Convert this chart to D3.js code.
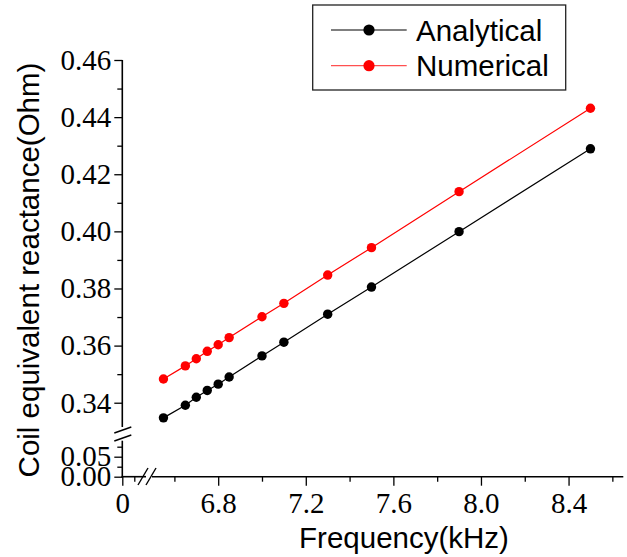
<!DOCTYPE html>
<html><head><meta charset="utf-8">
<script src="https://cdn.jsdelivr.net/npm/d3@7"></script>
<style>body{margin:0;background:#fff}svg{display:block}</style>
</head><body>
<svg id="c" width="627" height="557"></svg>
<script>
const freq = [6.55, 6.65, 6.7, 6.75, 6.8, 6.85, 7.0, 7.1, 7.3, 7.5, 7.9, 8.5];
const analytical = [0.3347, 0.3391, 0.3419, 0.3443, 0.3465, 0.3490, 0.3564, 0.3612, 0.3710, 0.3805, 0.3999, 0.4289];
const numerical = [0.3483, 0.3529, 0.3554, 0.3580, 0.3603, 0.3628, 0.3701, 0.3748, 0.3847, 0.3943, 0.4139, 0.4431];
const seriesNames = ["Analytical", "Numerical"];
const seriesColors = ["#000000", "#ff0000"];
const xMajorHigh = [6.8, 7.2, 7.6, 8.0, 8.4];
const xMinorHigh = [6.6, 7.0, 7.4, 7.8, 8.2, 8.6];
const xMajorLow = [0];
const xMinorLow = [0.5];
const yMajorHigh = [0.34, 0.36, 0.38, 0.40, 0.42, 0.44, 0.46];
const yMinorHigh = [0.35, 0.37, 0.39, 0.41, 0.43, 0.45];
const yMajorLow = [0, 0.05];
const yMinorLow = [0.025, 0.075];

const svg = d3.select("#c");
const xLow = d3.scaleLinear().domain([0, 1]).range([122.3, 146.3]);
const xHigh = d3.scaleLinear().domain([6.5, 8.65]).range([152.5, 623.3]);
const yHigh = d3.scaleLinear().domain([0.3315, 0.46]).range([427, 60]);
const yLow = d3.scaleLinear().domain([0, 0.09]).range([476.7, 440.7]);
const x0 = xLow(0), yBase = yLow(0);
const sans = '"Liberation Sans", Arial, sans-serif';
const serif = '"Liberation Serif"';

function styleAxis(g) {
  g.attr("font-family", serif).attr("font-size", 29);
  g.select(".domain").remove();
  g.selectAll(".tick line").attr("stroke", "#000").attr("stroke-width", 1.3);
  g.selectAll("text").attr("fill", "#000").attr("font-family", serif).attr("font-size", 29)
    .style("font-family", serif).style("font-size", "29px");
}
svg.append("g").attr("transform", `translate(${x0},0)`)
  .call(d3.axisLeft(yHigh).tickValues(yMinorHigh).tickSize(5).tickFormat(""))
  .call(styleAxis);
svg.append("g").attr("transform", `translate(${x0},0)`)
  .call(d3.axisLeft(yHigh).tickValues(yMajorHigh).tickSize(8).tickPadding(3).tickFormat(d3.format(".2f")))
  .call(styleAxis);
svg.append("g").attr("transform", `translate(${x0},0)`)
  .call(d3.axisLeft(yLow).tickValues(yMinorLow).tickSize(5).tickFormat(""))
  .call(styleAxis);
svg.append("g").attr("transform", `translate(${x0},0)`)
  .call(d3.axisLeft(yLow).tickValues(yMajorLow).tickSize(8).tickPadding(3).tickFormat(d3.format(".2f")))
  .call(styleAxis);
function xAxis(scale, vals, size, labels) {
  const g = svg.append("g").attr("transform", `translate(0,${yBase})`)
    .call(d3.axisBottom(scale).tickValues(vals).tickSize(size).tickFormat(labels ? (d => d === 0 ? "0" : d3.format(".1f")(d)) : ""));
  styleAxis(g);
  g.selectAll("text").attr("y", 36.5).attr("dy", 0);
}
xAxis(xLow, xMinorLow, 5, false);
xAxis(xLow, xMajorLow, 9, true);
xAxis(xHigh, xMinorHigh, 5, false);
xAxis(xHigh, xMajorHigh, 9, true);

const ax = svg.append("g").attr("stroke", "#000").attr("stroke-width", 1.6).attr("fill", "none");
ax.append("line").attr("x1", x0).attr("x2", x0).attr("y1", yHigh(0.46)).attr("y2", yHigh(0.3315));
ax.append("line").attr("x1", x0).attr("x2", x0).attr("y1", yLow(0.09)).attr("y2", yBase + 0.8);
ax.append("line").attr("x1", x0 - 0.8).attr("x2", 146).attr("y1", yBase).attr("y2", yBase);
ax.append("line").attr("x1", 152).attr("x2", xHigh(8.65)).attr("y1", yBase).attr("y2", yBase);
const br = svg.append("g").attr("stroke", "#000").attr("stroke-width", 1.4);
br.append("line").attr("x1", x0 - 8).attr("y1", 433).attr("x2", x0 + 9).attr("y2", 427);
br.append("line").attr("x1", x0 - 8).attr("y1", 441).attr("x2", x0 + 9).attr("y2", 435);
br.append("line").attr("x1", 138).attr("y1", 485).attr("x2", 148).attr("y2", 468);
br.append("line").attr("x1", 146).attr("y1", 485).attr("x2", 156).attr("y2", 468);

const series = [analytical, numerical];
series.forEach((vals, i) => {
  const pts = freq.map((f, j) => [xHigh(f), yHigh(vals[j])]);
  svg.append("path").attr("d", d3.line()(pts)).attr("fill", "none")
    .attr("stroke", seriesColors[i]).attr("stroke-width", 1.2);
  svg.append("g").selectAll("circle").data(pts).join("circle")
    .attr("cx", d => d[0]).attr("cy", d => d[1]).attr("r", 4.7).attr("fill", seriesColors[i]);
});

const lg = svg.append("g");
lg.append("rect").attr("x", 312.7).attr("y", 5).attr("width", 253).attr("height", 85)
  .attr("fill", "#fff").attr("stroke", "#222").attr("stroke-width", 1.3);
seriesNames.forEach((n, i) => {
  const cy = 30 + i * 35.7;
  lg.append("line").attr("x1", 331).attr("x2", 406.7).attr("y1", cy).attr("y2", cy)
    .attr("stroke", i === 0 ? "#555" : "#ff5050").attr("stroke-width", 1.3);
  lg.append("circle").attr("cx", 369).attr("cy", cy).attr("r", 5.6).attr("fill", seriesColors[i]);
  lg.append("text").attr("x", 416).attr("y", cy + 10.5).text(n)
    .attr("font-family", sans).attr("font-size", 29.5).attr("fill", "#000");
});

svg.append("text").attr("x", 404).attr("y", 547.5).attr("text-anchor", "middle")
  .attr("font-family", sans).attr("font-size", 29.5).text("Frequency(kHz)");
svg.append("text").attr("transform", "translate(39,270) rotate(-90)").attr("text-anchor", "middle")
  .attr("font-family", sans).attr("font-size", 29.5).text("Coil equivalent reactance(Ohm)");
</script>
</body></html>
